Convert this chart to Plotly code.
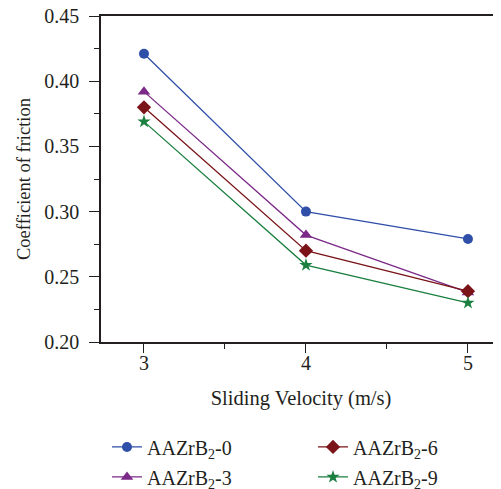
import plotly.graph_objects as go

velocity = [3, 4, 5]
cof_0 = [0.421, 0.300, 0.279]
cof_3 = [0.392, 0.282, 0.238]
cof_6 = [0.380, 0.270, 0.239]
cof_9 = [0.369, 0.259, 0.230]

# name, values, color, symbol, size, legend
series = [
    ("AAZrB<sub>2</sub>-0", cof_0, "#2f4fa8", "circle", 10, "legend"),
    ("AAZrB<sub>2</sub>-3", cof_3, "#7b2a88", "triangle-up", 11, "legend3"),
    ("AAZrB<sub>2</sub>-6", cof_6, "#7a1418", "diamond", 11, "legend2"),
    ("AAZrB<sub>2</sub>-9", cof_9, "#1a7f3f", "star", 10, "legend4"),
]

font = "Liberation Serif"
fig = go.Figure()
for name, vals, color, sym, size, leg in series:
    fig.add_trace(go.Scatter(
        x=velocity, y=vals, name=name, mode="lines+markers",
        line=dict(color=color, width=1.3),
        marker=dict(symbol=sym, size=size, color=color),
        legend=leg,
    ))

leg_common = dict(
    orientation="h", xanchor="left", yanchor="middle",
    font=dict(family=font, size=20, color="#231f20"),
    bgcolor="rgba(0,0,0,0)",
)

fig.update_layout(
    width=493, height=481,
    margin=dict(l=93, r=0, t=8, b=147, autoexpand=False),
    plot_bgcolor="white", paper_bgcolor="white",
    font=dict(family=font, size=20, color="#231f20"),
    showlegend=True,
    legend=dict(x=0.015, y=-0.322, **leg_common),
    legend2=dict(x=0.53, y=-0.322, **leg_common),
    legend3=dict(x=0.015, y=-0.414, **leg_common),
    legend4=dict(x=0.53, y=-0.414, **leg_common),
)
fig.update_xaxes(
    range=[2.7346, 5.204], tickvals=[3, 4, 5], automargin=False,
    showline=True, linecolor="#231f20", linewidth=1.5, mirror=True,
    ticks="outside", ticklen=9, tickwidth=1.3, tickcolor="#231f20",
    minor=dict(tickvals=[3.5, 4.5], ticks="outside", ticklen=5, tickcolor="#231f20", tickwidth=1.3),
    showgrid=False, zeroline=False, ticklabelstandoff=-7,
    title=dict(text="Sliding Velocity (m/s)", font=dict(family=font, size=20.5), standoff=18),
    tickfont=dict(family=font, size=20),
)
fig.update_yaxes(
    range=[0.20, 0.45], tickvals=[0.20, 0.25, 0.30, 0.35, 0.40, 0.45], tickformat=".2f",
    automargin=False, ticklabeloverflow="allow", ticklabelstandoff=6,
    showline=True, linecolor="#231f20", linewidth=1.5,
    ticks="outside", ticklen=10, tickwidth=1.3, tickcolor="#231f20",
    minor=dict(tickvals=[0.225, 0.275, 0.325, 0.375, 0.425], ticks="outside", ticklen=5, tickcolor="#231f20", tickwidth=1.3),
    showgrid=False, zeroline=False,
    title=dict(text="Coefficient of friction", font=dict(family=font, size=18.5), standoff=9),
    tickfont=dict(family=font, size=20),
)
fig.write_html("out.html")
